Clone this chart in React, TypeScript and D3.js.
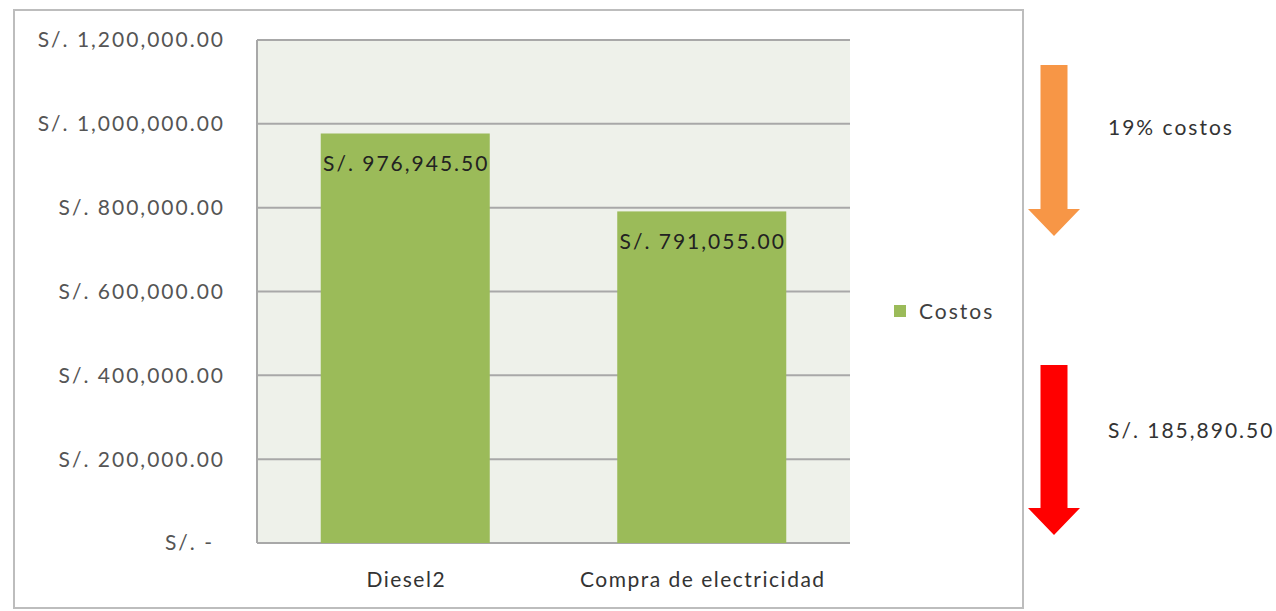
import React from "react";
import * as d3 from "d3";

const categories = ["Diesel2", "Compra de electricidad"];
const costos = [976945.5, 791055.0];
const yTicks = [0, 200000, 400000, 600000, 800000, 1000000, 1200000];
const seriesName = "Costos";
const pctLabel = "19% costos";
const diffLabel = "S/. 185,890.50";

const W = 1276;
const H = 611;
const plot = { left: 257, right: 850, top: 40, bottom: 543 };
const FONT = "Lato, 'Open Sans', sans-serif";
const FS = 21;
const LS = 2;

const fmt = d3.format(",.2f");
const money = (v: number) => (v === 0 ? "S/. -" : "S/. " + fmt(v));

export default function App() {
  const x = d3
    .scaleBand<string>()
    .domain(categories)
    .range([plot.left, plot.right])
    .paddingInner(0.43)
    .paddingOuter(0.215);
  const y = d3.scaleLinear().domain([0, 1200000]).range([plot.bottom, plot.top]);

  const arrow = (x0: number, top: number, headY: number, tip: number, color: string) => {
    const sw = 13.5;
    const hw = 26;
    const p = d3.path();
    p.moveTo(x0 - sw, top);
    p.lineTo(x0 + sw, top);
    p.lineTo(x0 + sw, headY);
    p.lineTo(x0 + hw, headY);
    p.lineTo(x0, tip);
    p.lineTo(x0 - hw, headY);
    p.lineTo(x0 - sw, headY);
    p.closePath();
    return <path d={p.toString()} fill={color} />;
  };

  return (
    <svg
      width={W}
      height={H}
      style={{ position: "absolute", left: 0, top: 0, background: "#fff" }}
      fontFamily={FONT}
      fontSize={FS}
      letterSpacing={LS}
    >
      <rect x={14} y={10} width={1009} height={598} fill="#fff" stroke="#bdbdbd" strokeWidth={2} />
      <rect
        x={plot.left}
        y={plot.top}
        width={plot.right - plot.left}
        height={plot.bottom - plot.top}
        fill="#eef1ea"
      />
      {yTicks.map((t) => (
        <line
          key={"g" + t}
          x1={plot.left}
          x2={plot.right}
          y1={y(t)}
          y2={y(t)}
          stroke="#a8a8a8"
          strokeWidth={2}
        />
      ))}
      <line x1={plot.left} x2={plot.left} y1={plot.top} y2={plot.bottom} stroke="#a8a8a8" strokeWidth={2} />
      {yTicks.map((t) => (
        <text
          key={"t" + t}
          x={t === 0 ? 214 : 225}
          y={y(t)}
          dy="0.35em"
          textAnchor="end"
          fill="#555"
        >
          {money(t)}
        </text>
      ))}
      {categories.map((c, i) => (
        <g key={c}>
          <rect
            x={x(c)!}
            y={y(costos[i])}
            width={x.bandwidth()}
            height={plot.bottom - y(costos[i])}
            fill="#9bbb59"
          />
          <text
            x={x(c)! + x.bandwidth() / 2 + 1}
            y={y(costos[i]) + 30}
            dy="0.35em"
            textAnchor="middle"
            fill="#222"
          >
            {money(costos[i])}
          </text>
          <text
            x={x(c)! + x.bandwidth() / 2 + 1}
            y={580}
            dy="0.35em"
            textAnchor="middle"
            fill="#333"
            letterSpacing={1.5}
          >
            {c}
          </text>
        </g>
      ))}
      <rect x={894} y={305} width={12} height={12} fill="#9bbb59" />
      <text x={919} y={312} dy="0.35em" fill="#404040">
        {seriesName}
      </text>
      {arrow(1054, 65, 209, 236, "#f79646")}
      {arrow(1054, 365, 508, 535, "#ff0000")}
      <text x={1108} y={128} dy="0.35em" fill="#333">
        {pctLabel}
      </text>
      <text x={1108} y={431} dy="0.35em" fill="#333">
        {diffLabel}
      </text>
    </svg>
  );
}
